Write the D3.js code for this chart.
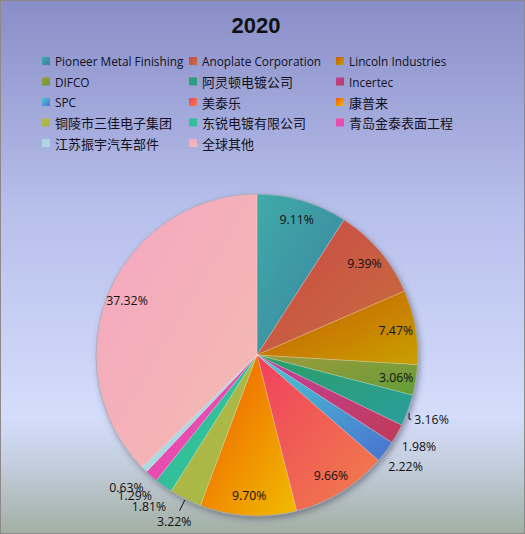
<!DOCTYPE html>
<html>
<head>
<meta charset="utf-8">
<script src="https://cdn.jsdelivr.net/npm/d3@7/dist/d3.min.js"></script>
<style>
html,body{margin:0;padding:0;background:#fff;}
svg{display:block;}
</style>
</head>
<body>
<svg id="chart" width="525" height="534"></svg>
<script>
// ---- data ----
const title = "2020";
const categories = ["Pioneer Metal Finishing","Anoplate Corporation","Lincoln Industries","DIFCO","阿灵顿电镀公司","Incertec","SPC","美泰乐","康普来","铜陵市三佳电子集团","东锐电镀有限公司","青岛金泰表面工程","江苏振宇汽车部件","全球其他"];
const values = [9.11, 9.39, 7.47, 3.06, 3.16, 1.98, 2.22, 9.66, 9.70, 3.22, 1.81, 1.29, 0.63, 37.32];
const valueLabels = ["9.11%","9.39%","7.47%","3.06%","3.16%","1.98%","2.22%","9.66%","9.70%","3.22%","1.81%","1.29%","0.63%","37.32%"];
const outsideLabels = ["阿灵顿电镀公司","Incertec","SPC","铜陵市三佳电子集团","东锐电镀有限公司","青岛金泰表面工程","江苏振宇汽车部件"];
const elbowLeader = ["阿灵顿电镀公司"];
const straightLeader = ["铜陵市三佳电子集团"];

// ---- styles ----
const colorStart = ["#40aaa8","#cc4848","#c85a00","#a09a3a","#2a9e66","#c2409e","#48cad0","#f0405e","#f05a00","#b8b840","#30c090","#e84ca8","#a6d6e0","#f4a6c2"];
const colorEnd   = ["#3a82a0","#c66e3c","#c8a000","#629e38","#2a9e9c","#c03a56","#4a72d0","#f0804a","#f0bc00","#a0b84a","#34c0a4","#e84cb8","#b0dae2","#f4bcb0"];

const W = 525, H = 534;
const cx = 257, cy = 355, R = 161;

const svg = d3.select("#chart");
const defs = svg.append("defs");

// background gradient
const bg = defs.append("linearGradient").attr("id","bg").attr("x1",0).attr("y1",0).attr("x2",0).attr("y2",1);
[[0,"#898ec7"],[0.4,"#b8c0ec"],[0.78,"#d4ddfb"],[0.86,"#c6d0e2"],[1,"#a2afa4"]].forEach(([o,c])=>bg.append("stop").attr("offset",o).attr("stop-color",c));

categories.forEach((c,i)=>{
  const g = defs.append("linearGradient").attr("id","g"+i).attr("x1",0).attr("y1",0).attr("x2",1).attr("y2",1);
  g.append("stop").attr("offset",0).attr("stop-color",colorStart[i]);
  g.append("stop").attr("offset",1).attr("stop-color",colorEnd[i]);
});

const f = defs.append("filter").attr("id","shadow").attr("x","-20%").attr("y","-20%").attr("width","140%").attr("height","140%");
f.append("feDropShadow").attr("dx",2).attr("dy",3).attr("stdDeviation",3).attr("flood-color","#4a4a5a").attr("flood-opacity",0.55);

svg.append("rect").attr("x",0.5).attr("y",0.5).attr("width",W-1).attr("height",H-1)
  .attr("fill","url(#bg)").attr("stroke","#8a8a8a").attr("stroke-width",1);

// title
svg.append("text").attr("x",256).attr("y",25).attr("text-anchor","middle").attr("dominant-baseline","central")
  .attr("font-family","Liberation Sans, Arial, sans-serif").attr("font-weight","bold").attr("font-size",22)
  .attr("fill","#111").text(title);

// legend
const cols = [42,189,336], rowY0 = 61, rowStep = 20.5;
const isCJK = s => /[\u4e00-\u9fff]/.test(s);
const legend = svg.append("g");
categories.forEach((c,i)=>{
  const col = i % 3, row = Math.floor(i/3);
  const x = cols[col], y = rowY0 + row*rowStep;
  legend.append("rect").attr("x",x).attr("y",y-4).attr("width",8).attr("height",8).attr("fill","url(#g"+i+")");
  legend.append("text").attr("x",x+13).attr("y",y).attr("dominant-baseline","central")
    .attr("font-family", isCJK(c) ? "Noto Sans CJK SC, sans-serif" : "Open Sans, Noto Sans CJK SC, sans-serif")
    .attr("font-size", isCJK(c) ? 13 : 11.8)
    .attr("fill","#111122").text(c);
});

// pie
const data = categories.map((c,i)=>({name:c, value:values[i], label:valueLabels[i], i}));
const pie = d3.pie().sort(null).value(d=>d.value);
const arcs = pie(data);
const arc = d3.arc().innerRadius(0).outerRadius(R);

const pg = svg.append("g").attr("transform",`translate(${cx},${cy})`);
pg.append("circle").attr("r",R).attr("fill","#ccc").attr("filter","url(#shadow)");
pg.selectAll("path.slice").data(arcs).join("path").attr("class","slice")
  .attr("d",arc).attr("fill",d=>"url(#g"+d.data.i+")")
  .attr("stroke","rgba(255,255,255,0.35)").attr("stroke-width",0.6);
pg.append("circle").attr("r",R).attr("fill","none").attr("stroke","rgba(150,160,180,0.7)").attr("stroke-width",1);

// labels
const lg = pg.append("g");
const polar = (a,r)=>[Math.sin(a)*r, -Math.cos(a)*r];
arcs.forEach(d=>{
  const mid = (d.startAngle+d.endAngle)/2;
  const out = outsideLabels.includes(d.data.name);
  const [lx,ly] = polar(mid, out ? 186 : 141);
  const t = lg.append("text").attr("x",lx).attr("y",ly).attr("text-anchor","middle").attr("dominant-baseline","central")
    .attr("font-family","Open Sans, sans-serif").attr("font-size",12.3).attr("fill","#111").text(d.data.label);
  const w = t.node().getComputedTextLength();
  if (elbowLeader.includes(d.data.name)) {
    const [rx,ry] = polar(mid, R+1);
    lg.append("polyline").attr("points",`${rx},${ry+2} ${rx},${ly} ${lx-w/2-3},${ly}`)
      .attr("fill","none").attr("stroke","#111").attr("stroke-width",1);
  }
  if (straightLeader.includes(d.data.name)) {
    const [rx,ry] = polar(mid, R+1);
    const [ex,ey] = polar(mid, R+13);
    lg.append("line").attr("x1",rx).attr("y1",ry).attr("x2",ex).attr("y2",ey)
      .attr("stroke","#111").attr("stroke-width",1);
  }
});
</script>
</body>
</html>
